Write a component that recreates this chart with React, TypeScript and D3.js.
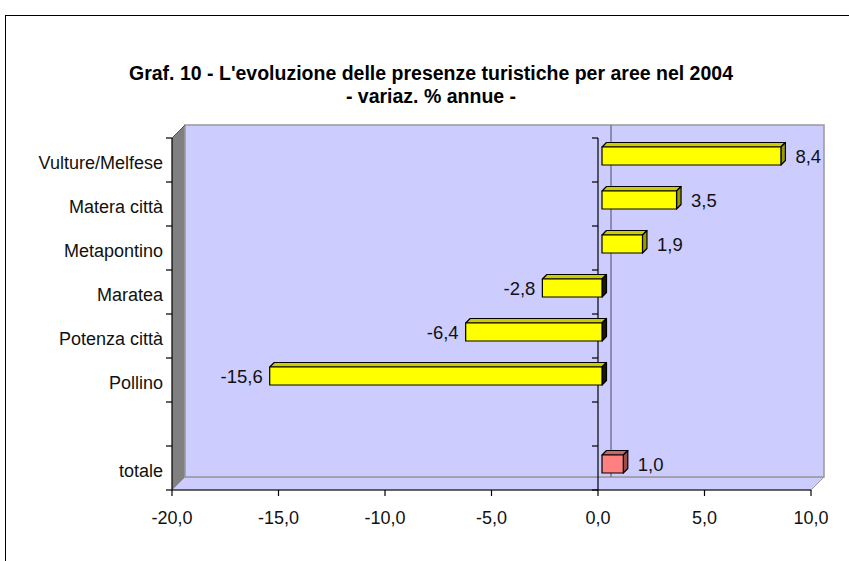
import React, { useEffect, useRef } from "react";
import * as d3 from "d3";

const categories = ["Vulture/Melfese", "Matera città", "Metapontino", "Maratea", "Potenza città", "Pollino", "", "totale"];
const values = [8.4, 3.5, 1.9, -2.8, -6.4, -15.6, null, 1.0];
const xTicks = [-20, -15, -10, -5, 0, 5, 10];
const titleLines = ["Graf. 10 - L'evoluzione delle presenze turistiche per aree nel 2004", "- variaz. % annue -"];

const fmt = (v: number) => d3.format(".1f")(v).replace(".", ",").replace("−", "-");

function Chart() {
    const ref = useRef<SVGSVGElement>(null);

    useEffect(() => {
        const svg = d3.select(ref.current);
        svg.selectAll("*").remove();

        const width = 849, height = 561;
        const font = "'Liberation Sans', Arial, sans-serif";
        const depth = 13;          // 3d wall depth
        const d1 = 4, d2 = 8.5;    // bar front / back depth

        // outer frame
        svg.append("rect")
            .attr("x", 5.5).attr("y", 15.5)
            .attr("width", width).attr("height", height)
            .attr("fill", "#fff").attr("stroke", "#000");

        // title
        svg.append("g").selectAll("text")
            .data(titleLines)
            .join("text")
            .attr("x", 431)
            .attr("y", (d, i) => 80 + i * 23)
            .attr("text-anchor", "middle")
            .attr("font-family", font)
            .attr("font-weight", "bold")
            .attr("font-size", 19.5)
            .text(d => d);

        const x = d3.scaleLinear().domain([-20, 10]).range([172, 811]);
        const y = d3.scaleBand().domain(categories).range([138, 490]);
        const [x0, x1] = x.range();
        const [y0, y1] = y.range();

        // walls
        svg.append("polygon")
            .attr("points", [[x0, y0], [x0 + depth, y0 - depth], [x0 + depth, y1 - depth], [x0, y1]].join(" "))
            .attr("fill", "#808080");
        svg.append("polygon")
            .attr("points", [[x0, y1], [x0 + depth, y1 - depth], [x1 + depth, y1 - depth], [x1, y1]].join(" "))
            .attr("fill", "#ccccff").attr("stroke", "#999").attr("stroke-width", 1);
        svg.append("rect")
            .attr("x", x0 + depth).attr("y", y0 - depth)
            .attr("width", x1 - x0).attr("height", y1 - y0)
            .attr("fill", "#ccccff").attr("stroke", "#999").attr("stroke-width", 1.5);
        svg.append("line")
            .attr("x1", x0).attr("y1", y0).attr("x2", x0 + depth).attr("y2", y0 - depth)
            .attr("stroke", "#555");

        // zero line on back wall
        svg.append("line")
            .attr("x1", x(0) + depth).attr("x2", x(0) + depth)
            .attr("y1", y0 - depth).attr("y2", y1 - depth)
            .attr("stroke", "#777799").attr("stroke-width", 1.5);

        // axes
        const axes = svg.append("g").attr("stroke", "#000").attr("stroke-width", 1.2);
        axes.append("line").attr("x1", x0).attr("x2", x1).attr("y1", y1).attr("y2", y1);
        axes.append("line").attr("x1", x0).attr("x2", x0).attr("y1", y0).attr("y2", y1);
        axes.append("line").attr("x1", x(0)).attr("x2", x(0)).attr("y1", y0).attr("y2", y1);
        const bounds = categories.map(c => y(c)!).concat([y1]);
        axes.selectAll(".tl").data(bounds).join("line")
            .attr("x1", x0 - 6).attr("x2", x0).attr("y1", d => d).attr("y2", d => d);
        axes.selectAll(".tz").data(bounds).join("line")
            .attr("x1", x(0) - 6).attr("x2", x(0)).attr("y1", d => d).attr("y2", d => d);
        axes.selectAll(".tx").data(xTicks).join("line")
            .attr("x1", d => x(d)).attr("x2", d => x(d)).attr("y1", y1).attr("y2", y1 + 6);
        svg.append("line")
            .attr("x1", x1).attr("y1", y1).attr("x2", x1 + depth).attr("y2", y1 - depth)
            .attr("stroke", "#999");

        svg.append("g").selectAll("text")
            .data(xTicks)
            .join("text")
            .attr("x", d => x(d))
            .attr("y", y1 + 34)
            .attr("text-anchor", "middle")
            .attr("font-family", font).attr("font-size", 18)
            .attr("fill", "#111")
            .text(d => fmt(d));

        svg.append("g").selectAll("text")
            .data(categories)
            .join("text")
            .attr("x", x0 - 9)
            .attr("y", d => y(d)! + y.bandwidth() / 2 + 8.5)
            .attr("text-anchor", "end")
            .attr("font-family", font).attr("font-size", 18)
            .attr("fill", "#111")
            .text(d => d);

        // bars
        const bh = y.bandwidth() * 0.41;
        const dd = d2 - d1;
        const rows = categories.map((c, i) => ({ c, v: values[i] })).filter(r => r.v !== null) as { c: string, v: number }[];
        const bars = svg.append("g").attr("stroke", "#000").attr("stroke-width", 1.2).attr("stroke-linejoin", "round");
        rows.forEach(r => {
            const tot = r.c === "totale";
            const front = tot ? "#ff8080" : "#ffff00";
            const top = tot ? "#cc6666" : "#cccc00";
            const side = tot ? "#994d4d" : (r.v < 0 ? "#1a1a00" : "#999900");
            const xl = x(Math.min(0, r.v)) + d1;
            const xr = x(Math.max(0, r.v)) + d1;
            const yc = y(r.c)! + y.bandwidth() / 2 - d1;
            const yt = yc - bh / 2, yb = yc + bh / 2;
            bars.append("polygon")
                .attr("points", [[xl, yt], [xl + dd, yt - dd], [xr + dd, yt - dd], [xr, yt]].join(" "))
                .attr("fill", top);
            bars.append("polygon")
                .attr("points", [[xr, yt], [xr + dd, yt - dd], [xr + dd, yb - dd], [xr, yb]].join(" "))
                .attr("fill", side);
            bars.append("rect")
                .attr("x", xl).attr("y", yt)
                .attr("width", xr - xl).attr("height", bh)
                .attr("fill", front);
            svg.append("text")
                .attr("x", r.v < 0 ? xl - 7 : xr + dd + 10)
                .attr("y", yc + 6.5)
                .attr("text-anchor", r.v < 0 ? "end" : "start")
                .attr("font-family", font).attr("font-size", 18.5)
                .attr("fill", "#111")
                .text(fmt(r.v));
        });
    }, []);

    return (
        <svg ref={ref} width={849} height={561}
             style={{ position: "absolute", left: 0, top: 0, display: "block", background: "#fff" }} />
    );
}

export default function App() {
    return <Chart />;
}
